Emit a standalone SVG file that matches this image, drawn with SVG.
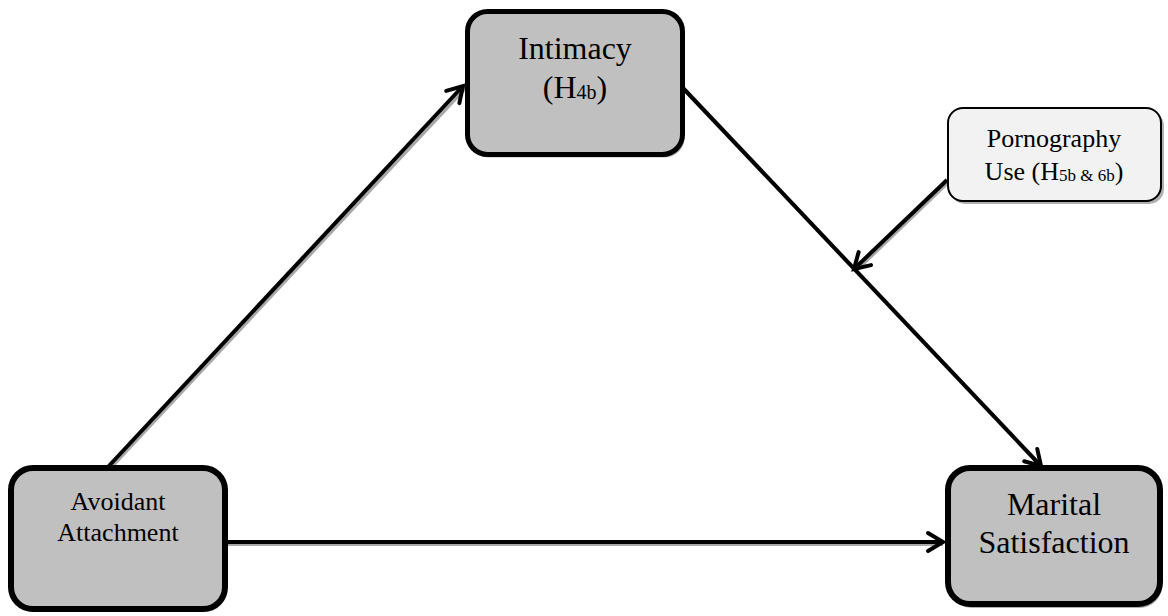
<svg xmlns="http://www.w3.org/2000/svg" width="1168" height="616" viewBox="0 0 1168 616">
<style>
.box{fill:#c0c0c0;stroke:#000}
.shadow{fill:#b0b0b0;stroke:none}
.conn{stroke:#000;stroke-width:4;fill:none;stroke-linecap:butt}
.cshadow{stroke:#a8a8a8;stroke-width:3;fill:none}
text{font-family:"Liberation Serif","Times New Roman",serif;fill:#000;text-anchor:middle}
</style>
<defs>
<marker id="arr" viewBox="-20 -12 24 24" markerWidth="24" markerHeight="24" refX="0" refY="0" orient="auto" markerUnits="userSpaceOnUse">
<path d="M -15 -9 L 0 0 L -15 9" fill="none" stroke="#000" stroke-width="4" stroke-linejoin="miter" stroke-linecap="round"/>
</marker>
</defs>
<rect width="1168" height="616" fill="#fff"/>
<g id="connectors">
<line class="cshadow" x1="109" y1="470" x2="466" y2="88"/>
<line class="cshadow" x1="685" y1="91" x2="1043" y2="469"/>
<line class="cshadow" x1="948" y1="183" x2="855" y2="272"/>
<line class="cshadow" x1="228" y1="544.5" x2="943" y2="544.5"/>
<line class="conn" x1="107" y1="468" x2="463" y2="86" marker-end="url(#arr)"/>
<line class="conn" x1="683" y1="88" x2="1041" y2="466" marker-end="url(#arr)"/>
<line class="conn" x1="947" y1="180" x2="854" y2="269" marker-end="url(#arr)"/>
<line class="conn" x1="227" y1="542" x2="943" y2="542" marker-end="url(#arr)"/>
</g>
<g id="intimacy">
<rect class="shadow" x="469.5" y="14.5" width="215" height="143" rx="20"/>
<rect class="box" x="467.5" y="11.5" width="215" height="143" rx="20" stroke-width="5"/>
<text x="575" y="59" font-size="32">Intimacy</text>
<text x="575" y="98" font-size="32">(H<tspan font-size="20" dy="1">4b</tspan><tspan dy="-1">)</tspan></text>
</g>
<g id="pornography">
<rect class="shadow" x="950" y="111" width="214" height="93" rx="15"/>
<rect x="948" y="108" width="213" height="93" rx="15" fill="#f2f2f2" stroke="#000" stroke-width="2"/>
<text x="1054" y="147" font-size="26">Pornography</text>
<text x="1054" y="180" font-size="26">Use (H<tspan font-size="17" dy="1">5b &amp; 6b</tspan><tspan dy="-1">)</tspan></text>
</g>
<g id="avoidant">
<rect class="shadow" x="13" y="471" width="214" height="141" rx="22"/>
<rect class="box" x="11" y="468" width="214" height="141" rx="22" stroke-width="6"/>
<text x="118" y="510" font-size="26">Avoidant</text>
<text x="118" y="541" font-size="26">Attachment</text>
</g>
<g id="marital">
<rect class="shadow" x="950" y="471" width="212" height="137" rx="22"/>
<rect class="box" x="948" y="468" width="212" height="136" rx="22" stroke-width="6"/>
<text x="1054" y="515" font-size="32">Marital</text>
<text x="1054" y="553" font-size="32">Satisfaction</text>
</g>
</svg>
